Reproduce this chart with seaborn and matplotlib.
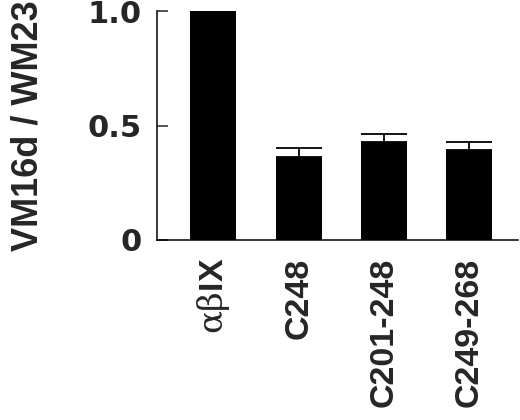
import matplotlib
matplotlib.use("Agg")
import matplotlib.pyplot as plt
from matplotlib import font_manager
import seaborn as sns

# values
labels = [r"$\mathrm{αβ}$IX", "C248", "C201-248", "C249-268"]
ratio = [1.0, 0.362, 0.427, 0.393]
sem = [0.0, 0.040, 0.036, 0.035]
yticks = [0, 0.5, 1.0]
ytick_labels = ["0", "0.5", "1.0"]


def pick_font(names):
    for name in names:
        try:
            font_manager.findfont(name, fallback_to_default=False)
            return name
        except Exception:
            continue
    return "DejaVu Sans"


sns.set_style("ticks")
narrow = pick_font(["Liberation Sans Narrow", "Liberation Sans"])
is_narrow = narrow == "Liberation Sans Narrow"
plt.rcParams["font.family"] = [narrow, "DejaVu Sans"]
plt.rcParams["mathtext.fontset"] = "custom"
plt.rcParams["mathtext.rm"] = "DejaVu Serif"

fig = plt.figure(figsize=(5.2, 4.2), dpi=100)
ax = fig.add_axes([0.302, 0.4286, 0.694, 0.545])

sns.barplot(x=labels, y=ratio, color="black", saturation=1, width=0.54,
            edgecolor="black", linewidth=0, ax=ax)
ax.errorbar(range(1, len(labels)), ratio[1:], yerr=[[0] * 3, sem[1:]],
            fmt="none", ecolor="black", elinewidth=1.3, capsize=16.5,
            capthick=1.3)

ax.set_xlim(-0.66, 3.57)
ax.set_ylim(0, 1.0)
ax.set_yticks(yticks)
ax.set_yticklabels(ytick_labels, fontfamily="DejaVu Sans",
                   fontweight="bold", fontsize=22)
ax.tick_params(axis="y", direction="in", length=8, width=1.1, pad=11)
ax.tick_params(axis="x", length=0, pad=13)

xsize = 30 if is_narrow else 24.5
for lab in ax.get_xticklabels():
    lab.set_rotation(90)
    lab.set_fontsize(xsize)
    lab.set_fontweight("bold")
    lab.set_va("top")
    lab.set_ha("center")

ax.set_xlabel("")
ax.set_ylabel("VM16d / WM23", fontsize=31.5 if is_narrow else 26,
              fontweight="bold")
ax.yaxis.set_label_coords(-0.31, 0.5)

sns.despine(ax=ax)
for side in ["left", "bottom"]:
    ax.spines[side].set_linewidth(1.1)
    ax.spines[side].set_color("black")

fig.savefig("out.png", dpi=100, facecolor="white")
